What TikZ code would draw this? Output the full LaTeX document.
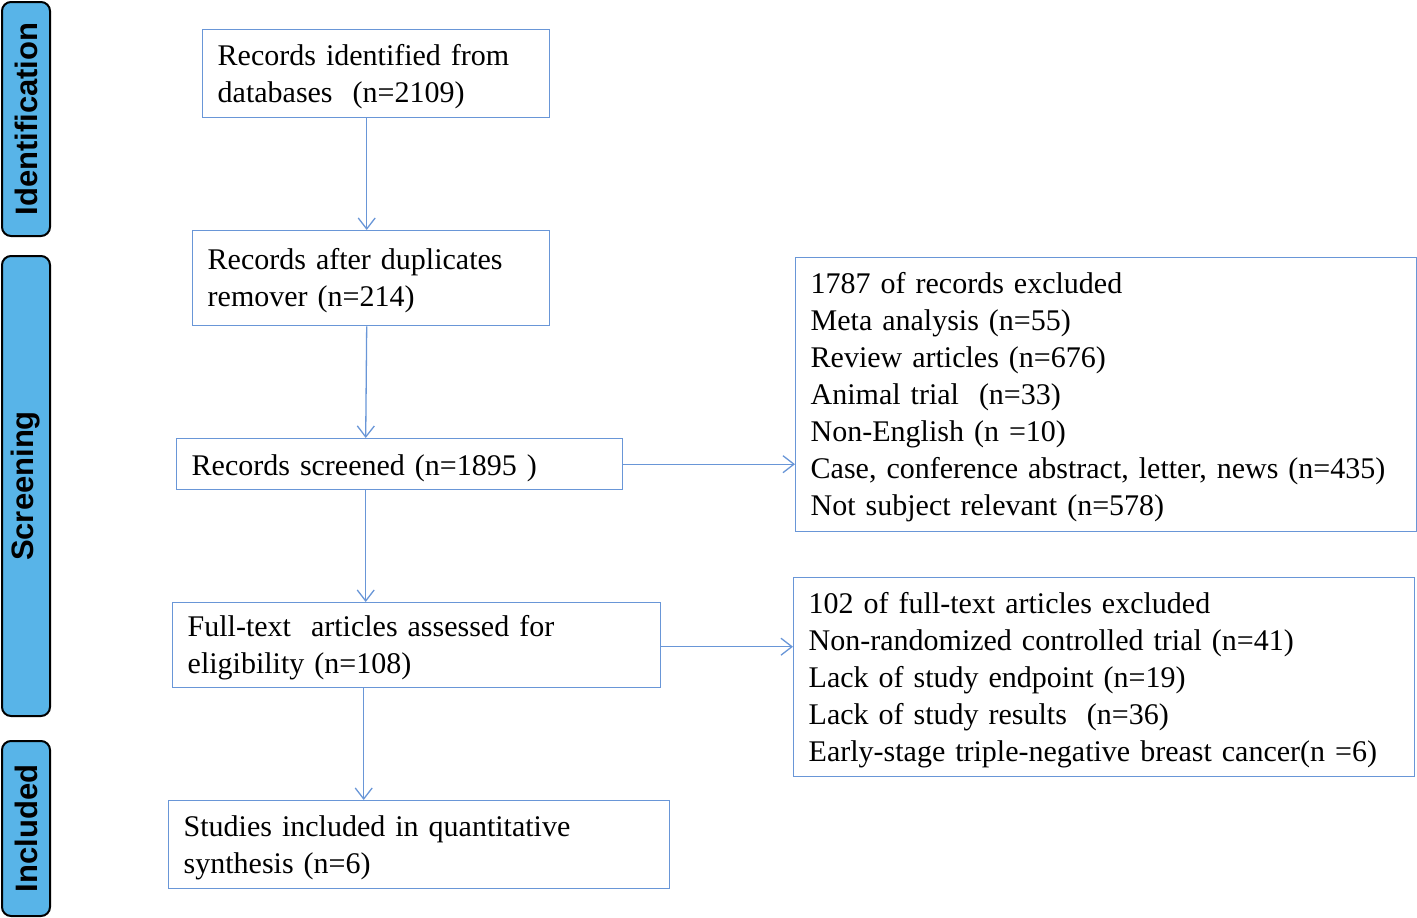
\documentclass[tikz,border=0pt]{standalone}
\usepackage{fontspec}
\setmainfont[WordSpace=0.8]{Liberation Serif}
\newfontfamily\barfont{Liberation Sans}
\usetikzlibrary{arrows.meta}
\definecolor{boxblue}{RGB}{105,150,215}
\definecolor{barfill}{RGB}{88,180,232}
\tikzset{
  box/.style={draw=boxblue, line width=1.4pt, anchor=north west, align=left,
    inner xsep=15pt, inner ysep=0pt, font=\fontsize{30}{37}\selectfont,
    execute at begin node={\rule{0pt}{27pt}},
    execute at end node={\rule[-7pt]{0pt}{0pt}}},
  bar/.style={draw=black, fill=barfill, line width=2pt, rounded corners=9pt,
    rotate=90, inner sep=0pt, font=\barfont\bfseries\fontsize{31}{34}\selectfont},
  arr/.style={draw=boxblue, line width=1.3pt, -{Straight Barb[length=11pt,width=17pt]}}
}
\begin{document}
\begin{tikzpicture}[x=1pt,y=-1pt]
\useasboundingbox (0,0) rectangle (1417,918);
% side bars
\node[bar, minimum width=234, minimum height=48] (idb) at (26,119) {Identification};
\node[bar, minimum width=460, minimum height=48] (scb) at (26,486) {Screening};
\node[bar, minimum width=175, minimum height=48] (inb) at (26,828.5) {Included};
% boxes
\node[box, text width=317, minimum height=88] (b1) at (202,29)
  {Records identified from\\databases~~(n=2109)};
\node[box, text width=327, minimum height=95] (b2) at (192,230)
  {Records after duplicates\\remover (n=214)};
\node[box, text width=416, minimum height=51, execute at begin node={\rule{0pt}{29.5pt}}] (b3) at (176,438)
  {Records screened (n=1895 )};
\node[box, text width=458, minimum height=85] (b4) at (172,602)
  {Full-text~~articles assessed for\\eligibility (n=108)};
\node[box, text width=471, minimum height=88] (b5) at (168,800)
  {Studies included in quantitative\\synthesis (n=6)};
\node[box, text width=591, minimum height=274] (e1) at (795,257)
  {1787 of records excluded\\Meta analysis (n=55)\\Review articles (n=676)\\Animal trial~~(n=33)\\Non-English (n =10)\\Case, conference abstract, letter, news (n=435)\\Not subject relevant (n=578)};
\node[box, text width=591, minimum height=199] (e2) at (793,577)
  {102 of full-text articles excluded\\Non-randomized controlled trial (n=41)\\Lack of study endpoint (n=19)\\Lack of study results~~(n=36)\\Early-stage triple-negative breast cancer(n =6)};
% arrows
\draw[arr] ([xshift=-9.5]b1.south) -- ([xshift=-4.5]b2.north);
\draw[arr] ([xshift=-4.5]b2.south) -- ([xshift=-34]b3.north);
\draw[arr] ([xshift=-34]b3.south) -- ([xshift=-51]b4.north);
\draw[arr] ([xshift=-53]b4.south) -- ([xshift=-55.5]b5.north);
\draw[arr] (b3.east) -- (b3.east -| e1.west);
\draw[arr] ([yshift=-1.5]b4.east) -- ([yshift=-1.5]b4.east -| e2.west);
\end{tikzpicture}
\end{document}
